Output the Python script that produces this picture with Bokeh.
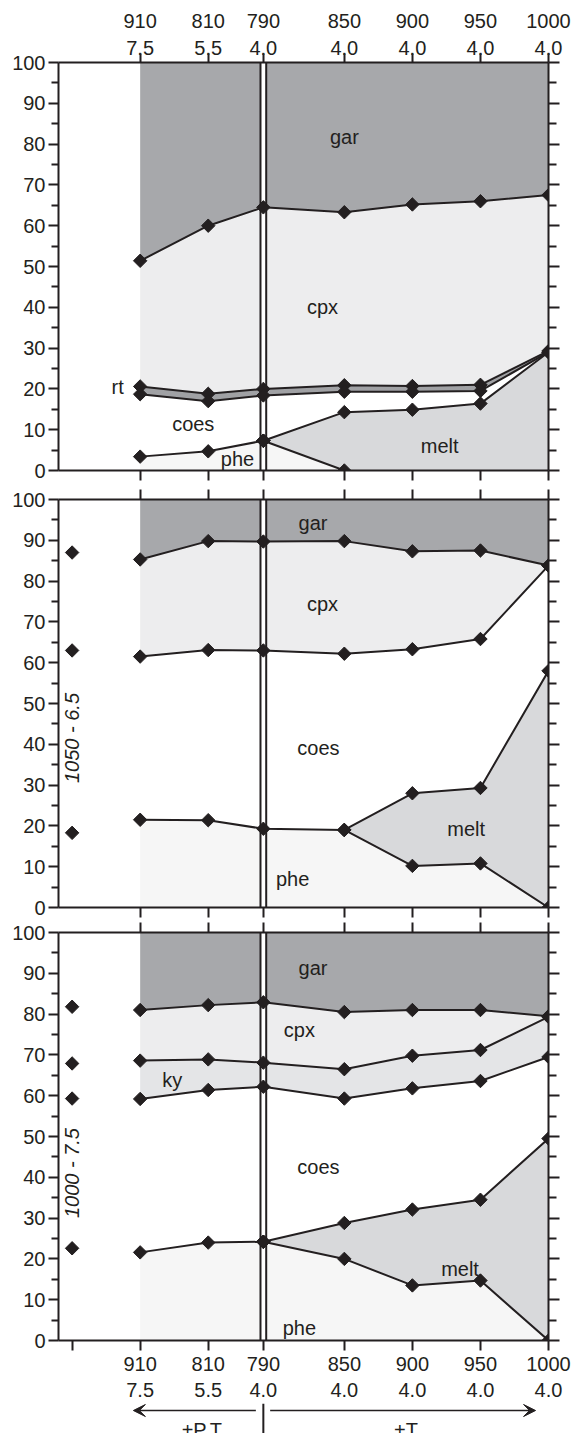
import numpy as np
from bokeh.plotting import figure
from bokeh.layouts import column
from bokeh.models import Range1d, LinearAxis, FixedTicker, Arrow, VeeHead
from bokeh.core.properties import value
from bokeh.embed import file_html
from bokeh.resources import INLINE

# ---------------- data ----------------
temps = ["910", "810", "790", "850", "900", "950", "1000"]
pressures = ["7.5", "5.5", "4.0", "4.0", "4.0", "4.0", "4.0"]
cat_x = [1.0, 2.0, 2.81, 4.0, 5.0, 6.0, 7.0]   # 910 ... 1000
ref_x = 0.0                                     # reference column (no label)

# panel 1 (top)
p1_gar = [51.4, 60.0, 64.5, 63.3, 65.2, 66.0, 67.5]
p1_rt_top = [20.6, 18.8, 20.0, 20.9, 20.7, 21.0, 29.3]
p1_rt_bot = [18.7, 17.0, 18.4, 19.3, 19.3, 19.5, 29.0]
p1_phe = [3.4, 4.7, 7.3]                      # 910, 810, 790
p1_melt_top = [7.3, 14.3, 14.9, 16.4, 29.0]   # 790 ... 1000
p1_melt_bot = [7.3, 0.0]                      # 790, 850

# panel 2 (middle, 1050 - 6.5)
p2_ref = [87.0, 63.0, 18.3]
p2_gar = [85.3, 89.8, 89.7, 89.8, 87.3, 87.5, 83.8]
p2_cpx_bot = [61.5, 63.1, 63.0, 62.2, 63.3, 65.8, 83.8]
p2_phe = [21.5, 21.4, 19.3, 19.0]             # 910 ... 850
p2_melt_top = [19.0, 28.0, 29.3, 58.0]        # 850 ... 1000
p2_melt_bot = [19.0, 10.2, 10.8, 0.0]         # 850 ... 1000

# panel 3 (bottom, 1000 - 7.5)
p3_ref = [81.8, 67.9, 59.3, 22.6]
p3_gar = [81.0, 82.2, 82.9, 80.5, 81.0, 81.0, 79.5]
p3_cpx_bot = [68.6, 68.9, 68.1, 66.5, 69.8, 71.2, 79.3]
p3_ky_bot = [59.2, 61.4, 62.2, 59.3, 61.8, 63.6, 69.5]
p3_phe = [21.6, 24.0, 24.2]                   # 910, 810, 790
p3_melt_top = [24.2, 28.8, 32.1, 34.5, 49.5]  # 790 ... 1000
p3_melt_bot = [24.2, 20.0, 13.5, 14.7, 0.0]   # 790 ... 1000

# phase labels (text, x, y)
p1_labels = (["gar", "cpx", "rt", "coes", "phe", "melt"],
             [4.0, 3.68, 0.67, 1.78, 2.43, 5.40], [81.7, 40.0, 20.4, 11.5, 2.9, 5.9])
p2_labels = (["gar", "cpx", "coes", "melt", "phe"],
             [3.54, 3.68, 3.62, 5.79, 3.24], [94.2, 74.3, 39.0, 19.3, 7.1])
p3_labels = (["gar", "cpx", "ky", "coes", "melt", "phe"],
             [3.54, 3.34, 1.47, 3.62, 5.70, 3.34], [91.3, 76.0, 63.8, 42.5, 17.6, 3.1])

# ---------------- style ----------------
INK = "#231f20"
GAR = "#a7a8ab"
CPX = "#ededee"
RT = "#a0a1a4"
MELT = "#d8d9db"
PHE = "#f6f6f6"
KY = "#e4e5e7"
FONT = "Liberation Sans"
FS = "20px"
X0, X1 = -0.2, 7.0
GAP = 0.042  # half separation of the double line at 790


def style_axis(ax, labels=False, tick_out=10, minor_out=7):
    ax.axis_line_color = INK
    ax.axis_line_width = 2
    ax.major_tick_line_color = INK
    ax.major_tick_line_width = 2
    ax.major_tick_in = 0
    ax.major_tick_out = tick_out
    ax.minor_tick_line_color = INK
    ax.minor_tick_line_width = 2
    ax.minor_tick_in = 0
    ax.minor_tick_out = minor_out
    ax.major_label_text_font = FONT
    if labels:
        ax.major_label_text_font_size = FS
        ax.major_label_text_color = INK
    else:
        ax.major_label_text_font_size = "0px"
        ax.major_label_text_color = None


def base_fig(height, top_b, bottom_b, y_range):
    p = figure(width=573, height=height, x_range=Range1d(X0, X1), y_range=y_range,
               output_backend="svg", toolbar_location=None,
               x_axis_location=None, y_axis_location=None,
               min_border_left=58, min_border_right=25,
               min_border_top=top_b, min_border_bottom=bottom_b)
    p.grid.visible = False
    p.outline_line_color = None
    p.background_fill_color = "white"
    p.border_fill_color = "white"
    return p


def make_fig(height, top_b, bottom_b):
    p = base_fig(height, top_b, bottom_b, Range1d(0, 100))
    left = LinearAxis(ticker=FixedTicker(ticks=list(range(0, 101, 10)),
                                         minor_ticks=list(range(5, 100, 10))))
    style_axis(left, labels=True)
    left.major_label_standoff = 3
    p.add_layout(left, "left")
    right = LinearAxis(ticker=FixedTicker(ticks=list(range(0, 101, 10)),
                                          minor_ticks=list(range(5, 100, 10))))
    style_axis(right, labels=False, tick_out=11, minor_out=8)
    p.add_layout(right, "right")
    return p


def double_line(p):
    x = cat_x[2]
    p.quad(left=[x - GAP], right=[x + GAP], bottom=[0], top=[100],
           fill_color="white", line_color=None)
    p.segment(x0=[x - GAP, x + GAP], y0=[0, 0], x1=[x - GAP, x + GAP], y1=[100, 100],
              line_color=INK, line_width=2)


def phe_melt(p, phe_x, phe_y, top_x, top_y, bot_x, bot_y):
    xs = list(phe_x) + list(bot_x[1:]) + [phe_x[0]]
    ys = list(phe_y) + list(bot_y[1:]) + [0]
    p.patch(xs, ys, fill_color=PHE, line_color=None)
    xs = list(top_x) + [top_x[-1]] + list(bot_x[::-1])
    ys = list(top_y) + [0] + list(bot_y[::-1])
    p.patch(xs, ys, fill_color=MELT, line_color=None)


def lines_and_markers(p, series, loose=()):
    for xs, ys in series:
        p.line(xs, ys, line_color=INK, line_width=2)
    for xs, ys in list(series) + list(loose):
        p.scatter(xs, ys, marker="square", angle=np.pi / 4, size=9.5,
                  fill_color=INK, line_color=INK)


def labels(p, lab):
    t, x, y = lab
    p.text(x=x, y=y, text=t, text_font=value(FONT), text_font_size=FS,
           text_color=INK, text_align="center", text_baseline="middle")


def x_axis(p, where, labels_on=False, with_ref=False, standoff=3, tick_out=10):
    ticks = ([ref_x] if with_ref else []) + cat_x
    ax = LinearAxis(ticker=FixedTicker(ticks=ticks, minor_ticks=[]))
    style_axis(ax, labels=labels_on, tick_out=tick_out)
    if labels_on:
        ov = {x: f"{t}\n{pr}" for x, t, pr in zip(cat_x, temps, pressures)}
        if with_ref:
            ov[ref_x] = ""
        ax.major_label_overrides = ov
        ax.major_label_standoff = standoff
    p.add_layout(ax, where)


# ---------------- panel 1 ----------------
p1 = make_fig(485, 62, 15)
p1.varea(x=cat_x, y1=p1_gar, y2=[100] * len(cat_x), fill_color=GAR)
p1.varea(x=cat_x, y1=p1_rt_top, y2=p1_gar, fill_color=CPX)
p1.varea(x=cat_x, y1=p1_rt_bot, y2=p1_rt_top, fill_color=RT)
phe_melt(p1, cat_x[:3], p1_phe, cat_x[2:], p1_melt_top, cat_x[2:4], p1_melt_bot)
double_line(p1)
lines_and_markers(p1, [(cat_x, p1_gar), (cat_x, p1_rt_top), (cat_x, p1_rt_bot),
                       (cat_x[:3], p1_phe), (cat_x[2:], p1_melt_top), (cat_x[2:4], p1_melt_bot)])
labels(p1, p1_labels)
x_axis(p1, "above", labels_on=True, standoff=-5, tick_out=9)
x_axis(p1, "below")

# ---------------- panel 2 ----------------
p2 = make_fig(434, 14, 12)
p2.varea(x=cat_x, y1=p2_gar, y2=[100] * len(cat_x), fill_color=GAR)
p2.varea(x=cat_x, y1=p2_cpx_bot, y2=p2_gar, fill_color=CPX)
phe_melt(p2, cat_x[:4], p2_phe, cat_x[3:], p2_melt_top, cat_x[3:], p2_melt_bot)
double_line(p2)
lines_and_markers(p2, [(cat_x, p2_gar), (cat_x, p2_cpx_bot), (cat_x[:4], p2_phe),
                       (cat_x[3:], p2_melt_top), (cat_x[3:], p2_melt_bot)],
                  loose=[([ref_x] * len(p2_ref), p2_ref)])
labels(p2, p2_labels)
p2.text(x=[ref_x], y=[30.5], text=["1050 - 6.5"], angle=np.pi / 2, text_font=value(FONT),
        text_font_size=FS, text_font_style="italic", text_color=INK,
        text_align="left", text_baseline="middle")
x_axis(p2, "above")
x_axis(p2, "below")

# ---------------- panel 3 ----------------
p3 = make_fig(484, 13, 63)
p3.varea(x=cat_x, y1=p3_gar, y2=[100] * len(cat_x), fill_color=GAR)
p3.varea(x=cat_x, y1=p3_cpx_bot, y2=p3_gar, fill_color=CPX)
p3.varea(x=cat_x, y1=p3_ky_bot, y2=p3_cpx_bot, fill_color=KY)
phe_melt(p3, cat_x[:3], p3_phe, cat_x[2:], p3_melt_top, cat_x[2:], p3_melt_bot)
double_line(p3)
lines_and_markers(p3, [(cat_x, p3_gar), (cat_x, p3_cpx_bot), (cat_x, p3_ky_bot),
                       (cat_x[:3], p3_phe), (cat_x[2:], p3_melt_top), (cat_x[2:], p3_melt_bot)],
                  loose=[([ref_x] * len(p3_ref), p3_ref)])
labels(p3, p3_labels)
p3.text(x=[ref_x], y=[30.0], text=["1000 - 7.5"], angle=np.pi / 2, text_font=value(FONT),
        text_font_size=FS, text_font_style="italic", text_color=INK,
        text_align="left", text_baseline="middle")
x_axis(p3, "above")
x_axis(p3, "below", labels_on=True, with_ref=True, standoff=2)

# ---------------- direction arrows (strip below the bottom axis) ----------------
STRIP_H = 30
p4 = base_fig(STRIP_H, 0, 0, Range1d(0, STRIP_H))
ARROW_Y = 23
p4.add_layout(Arrow(end=VeeHead(size=12, fill_color=INK, line_color=INK, line_width=1),
                    x_start=cat_x[2] - 0.11, y_start=ARROW_Y, x_end=cat_x[0] - 0.1, y_end=ARROW_Y,
                    line_color=INK, line_width=1.5))
p4.add_layout(Arrow(end=VeeHead(size=12, fill_color=INK, line_color=INK, line_width=1),
                    x_start=cat_x[2] + 0.1, y_start=ARROW_Y, x_end=cat_x[-1] - 0.19, y_end=ARROW_Y,
                    line_color=INK, line_width=1.5))
p4.segment(x0=[cat_x[2]], y0=[STRIP_H], x1=[cat_x[2]], y1=[0],
           line_color=INK, line_width=2)
p4.text(x=[(cat_x[0] + cat_x[2]) / 2, (cat_x[2] + cat_x[-1]) / 2], y=[ARROW_Y - 8] * 2,
        text=["+P,T", "+T"], text_font=value(FONT), text_font_size=FS, text_color=INK,
        text_align="center", text_baseline="top")

layout = column(p1, p2, p3, p4, spacing=0)
open("out.html", "w").write(file_html(layout, INLINE))
